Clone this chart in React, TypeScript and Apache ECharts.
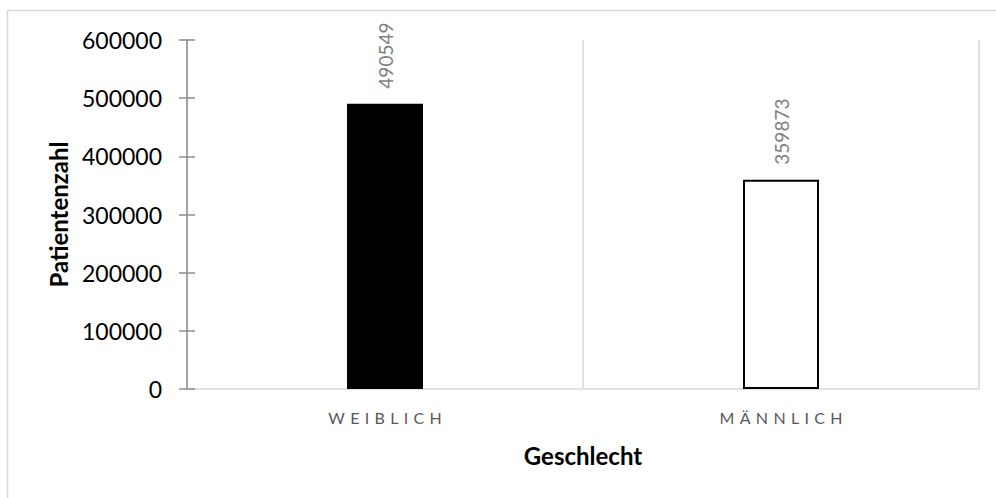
import React, { useEffect, useRef } from "react";
import * as echarts from "echarts";

// Patient counts by sex
const categories: string[] = ["WEIBLICH", "MÄNNLICH"];
const patientCounts: number[] = [490549, 359873];
const barFills: string[] = ["#000000", "#ffffff"];

const yMin = 0;
const yMax = 600000;
const yStep = 100000;

const xAxisTitle = "Geschlecht";
const yAxisTitle = "Patientenzahl";

const FONT = "Lato, 'Open Sans', sans-serif";

// Spread capitals apart like tracked small-caps text
const spaced = (s: string) => Array.from(s).join("\u2004");

export default function App() {
  const ref = useRef<HTMLDivElement>(null);

  useEffect(() => {
    if (!ref.current) return;
    const chart = echarts.init(ref.current, undefined, { renderer: "svg" });

    chart.setOption({
      animation: false,
      backgroundColor: "#ffffff",
      textStyle: { fontFamily: FONT },
      graphic: [
        {
          type: "rect",
          shape: { x: 7.5, y: 10.5, width: 1200, height: 1200 },
          style: { fill: "none", stroke: "#d9d9d9", lineWidth: 1.5 },
          silent: true,
          z: -10,
        },
      ],
      grid: { left: 187, top: 40, width: 792, height: 349, containLabel: false },
      xAxis: {
        type: "category",
        data: categories,
        boundaryGap: true,
        axisLine: { show: true, lineStyle: { color: "#d9d9d9", width: 1.5 } },
        axisTick: { show: false },
        splitLine: { show: true, interval: 0, lineStyle: { color: "#d9d9d9", width: 1.5 } },
        axisLabel: {
          interval: 0,
          margin: 20,
          fontSize: 16,
          color: "#595959",
          fontFamily: FONT,
          formatter: (v: string) => spaced(v),
        },
        name: xAxisTitle,
        nameLocation: "middle",
        nameGap: 54,
        nameTextStyle: { fontSize: 24, fontWeight: "bold", color: "#000000", fontFamily: FONT },
      },
      yAxis: [
        {
          type: "value",
          min: yMin,
          max: yMax,
          interval: yStep,
          axisLine: { show: true, lineStyle: { color: "#8c8c8c", width: 1.5 } },
          axisTick: { show: true, length: 8, lineStyle: { color: "#8c8c8c", width: 1.5 } },
          splitLine: { show: false },
          axisLabel: {
            margin: 25,
            fontSize: 23,
            color: "#000000",
            fontFamily: FONT,
            formatter: (v: number) => String(v),
          },
          name: yAxisTitle,
          nameLocation: "middle",
          nameGap: 117,
          nameTextStyle: { fontSize: 24, fontWeight: "bold", color: "#000000", fontFamily: FONT },
        },
        {
          type: "value",
          position: "left",
          min: yMin,
          max: yMax,
          interval: yStep,
          axisLine: { show: false },
          axisTick: { show: true, inside: true, length: 8, lineStyle: { color: "#8c8c8c", width: 1.5 } },
          splitLine: { show: false },
          axisLabel: { show: false },
        },
      ],
      series: [
        {
          type: "bar",
          yAxisIndex: 0,
          barWidth: 76,
          data: patientCounts.map((v, i) => ({
            value: v,
            itemStyle: { color: barFills[i], borderColor: "#000000", borderWidth: 2 },
          })),
          label: {
            show: true,
            position: "top",
            rotate: 90,
            align: "left",
            verticalAlign: "middle",
            distance: 15,
            fontSize: 19,
            color: "#7f7f7f",
            fontFamily: FONT,
          },
        },
      ],
    });

    return () => chart.dispose();
  }, []);

  return (
    <div
      ref={ref}
      style={{ position: "absolute", left: 0, top: 0, width: 996, height: 498 }}
    />
  );
}
